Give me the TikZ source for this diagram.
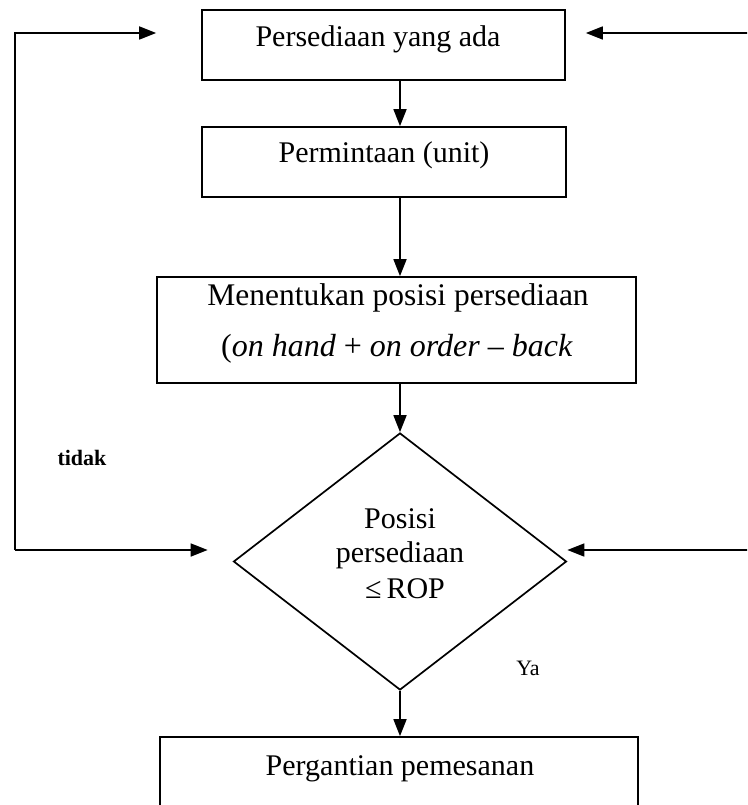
\documentclass[tikz,border=0pt]{standalone}
\usepackage{fontspec}
\setmainfont{Liberation Serif}
\usetikzlibrary{arrows.meta,shapes.geometric}
\tikzset{
  boxnode/.style={draw, line width=1.7pt, rectangle, inner sep=0pt},
  decnode/.style={draw, line width=1.7pt, diamond, inner sep=0pt},
  txt/.style={font=\fontsize{30}{34}\selectfont, inner sep=0pt, anchor=base},
  bigtxt/.style={font=\fontsize{31.5}{36}\selectfont, inner sep=0pt, anchor=base},
  lab/.style={font=\fontsize{22}{26}\selectfont, inner sep=0pt},
  arr/.style={line width=1.7pt, -{Triangle[length=17pt,width=13pt]}},
}
\begin{document}
\begin{tikzpicture}[x=1pt,y=-1pt]
\clip (0,0) rectangle (747,805);
\fill[white] (0,0) rectangle (747,805);

% boxes
\node[boxnode, minimum width=363pt, minimum height=70pt] (b1) at (383.5,45) {};
\node[boxnode, minimum width=364pt, minimum height=70pt] (b2) at (384,162) {};
\node[boxnode, minimum width=479pt, minimum height=106pt] (b3) at (396.5,330) {};
\node[decnode, minimum width=333pt, minimum height=257pt] (d) at (400,561.5) {};
\node[boxnode, minimum width=478pt, minimum height=96pt] (b4) at (399,785) {};

% texts
\node[txt] (t1) at (378,47) {Persediaan yang ada};
\node[txt] (t2) at (384,163) {Permintaan (unit)};
\node[bigtxt] (t3a) at (398,305) {Menentukan posisi persediaan};
\node[bigtxt, font=\fontsize{32}{36}\selectfont] (t3b) at (397,356) {(\textit{on hand} + \textit{on order} -- \textit{back}};
\node[txt] (td1) at (400,528) {Posisi};
\node[txt] (td2) at (400,562) {persediaan};
\node[txt] (td3) at (405,598) {≤\,ROP};
\node[txt] (t4) at (400,775) {Pergantian pemesanan};

% labels
\node[lab, font=\fontsize{22}{26}\selectfont\bfseries] (ltidak) at (82,458) {tidak};
\node[lab] (lya) at (528,668) {Ya};

% loop coordinates
\coordinate (lt) at (15,33);
\coordinate (lb) at (15,550);
\coordinate (rt) at (752,33);
\coordinate (rb) at (752,550);

% vertical flow
\draw[arr] (b1.south -| d.north) -- (b2.north -| d.north);
\draw[arr] (b2.south -| d.north) -- (b3.north -| d.north);
\draw[arr] (b3.south -| d.north) -- (d.north);
\draw[arr] (d.south) -- (b4.north -| d.south);

% left loop
\draw[arr] (lb) -- (lt) -- ([xshift=-45pt]b1.west |- lt);
\draw[arr] (lb) -- ([xshift=-25pt]d.west |- lb);

% right side
\draw[arr] (rt) -- ([xshift=20pt]b1.east |- rt);
\draw[arr] (rb) -- (d.east |- rb);
\end{tikzpicture}
\end{document}
